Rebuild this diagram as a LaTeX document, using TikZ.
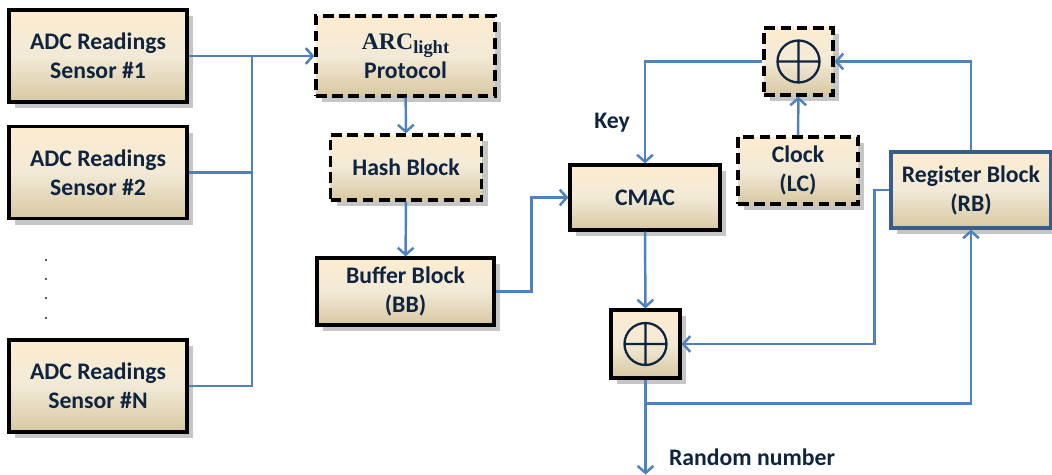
\documentclass[tikz,border=0pt]{standalone}
\usepackage{fontspec}
\setmainfont{Carlito}
\newfontfamily\arcfont{Liberation Serif}
\usetikzlibrary{positioning}
\usetikzlibrary{calc, arrows.meta, shadows}
\definecolor{linkblue}{RGB}{79,129,189}
\definecolor{txtnavy}{RGB}{15,36,62}
\definecolor{boxtop}{RGB}{253,236,208}
\definecolor{boxmid}{RGB}{242,234,214}
\definecolor{boxbot}{RGB}{216,200,162}
\definecolor{regblue}{RGB}{56,93,138}

\tikzset{
  blockbox/.style={draw=black, line width=1.8pt, top color=boxtop, bottom color=boxbot,
    middle color=boxmid, align=center, text=txtnavy,
    font=\bfseries\fontsize{13.5}{16.5}\selectfont,
    drop shadow={shadow xshift=3.5pt, shadow yshift=-3.5pt, fill=black!50, opacity=.45}},
  dashbox/.style={blockbox, dash pattern=on 6pt off 3.2pt},
  xorbox/.style={minimum width=1.38cm, minimum height=1.34cm,
    path picture={\draw[solid, txtnavy, line width=1.3pt]
      (path picture bounding box.center) circle (0.42cm)
      +(-0.42,0) -- +(0.42,0) +(0,-0.42) -- +(0,0.42);}},
  lbl/.style={text=txtnavy, font=\bfseries\fontsize{13.5}{16.5}\selectfont},
  link/.style={draw=linkblue, line width=1.4pt},
  arr/.style={link, -{Straight Barb[length=4pt,width=9pt]}}
}

\begin{document}
\begin{tikzpicture}
  \useasboundingbox (0,0) rectangle (21.04,-9.5);

  % sensors
  \node (s1) at (1.96,-1.12) [blockbox, minimum width=3.56cm, minimum height=1.84cm] {ADC Readings\\Sensor \#1};
  \node (s2) at (1.96,-3.45) [blockbox, minimum width=3.56cm, minimum height=1.84cm] {ADC Readings\\Sensor \#2};
  \node (sN) at (1.96,-7.72) [blockbox, minimum width=3.56cm, minimum height=1.84cm] {ADC Readings\\Sensor \#N};
  \foreach \y in {-5.2,-5.58,-5.96,-6.36}
    \fill[txtnavy] (0.92,\y) circle (0.7pt);

  % middle column
  \node (arc) at (8.11,-1.12) [dashbox, minimum width=3.58cm, minimum height=1.6cm]
    {{\arcfont ARC\raisebox{-0.4ex}{\fontsize{10.5}{10.5}\selectfont light}}\\Protocol};
  \node (hash) at (8.12,-3.35) [dashbox, minimum width=3.02cm, minimum height=1.3cm] {Hash Block};
  \node (buf) at (8.11,-5.83) [blockbox, minimum width=3.54cm, minimum height=1.34cm] {Buffer Block\\(BB)};

  % right part
  \node (cmac) at (12.9,-3.95) [blockbox, minimum width=3.0cm, minimum height=1.3cm] {CMAC};
  \node (xt) at (15.97,-1.23) [dashbox, xorbox] {};
  \node (clk) at (15.96,-3.41) [dashbox, minimum width=2.4cm, minimum height=1.34cm] {Clock\\(LC)};
  \node (reg) at (19.42,-3.8) [blockbox, draw=regblue, minimum width=3.2cm, minimum height=1.52cm] {Register Block\\(RB)};
  \node (xb) at (12.91,-6.88) [blockbox, xorbox, minimum height=1.36cm] {};

  \node (key) at (12.24,-2.46) [lbl] {Key};
  \node (rnd) at (15.04,-9.14) [lbl] {Random number};

  % connectors
  \coordinate (bus) at (5.04,-1.12);
  \draw[arr] (s1.east) -- (arc.west);
  \draw[link] (s2.east) -| (bus);
  \draw[link] (sN.east) -| (bus);
  \draw[arr] (arc) -- (hash);
  \draw[arr] (hash) -- (buf);
  \draw[arr] (buf.east) -- ++(0.72,0) |- (cmac.west);
  \draw[arr] (xt.west) -| (cmac.north);
  \draw[arr] (clk) -- (xt);
  \draw[arr] (reg.north) |- (xt.east);
  \draw[arr] (cmac) -- (xb);
  \draw[arr] (reg.west) -- ++(-0.3,0) |- (xb.east);
  \coordinate (br) at ($(xb.south)+(0,-0.48)$);
  \coordinate (out) at ($(xb.south)+(0,-1.9)$);
  \draw[arr] (xb.south) -- (out);
  \draw[arr] (br) -| (reg.south);
\end{tikzpicture}
\end{document}
